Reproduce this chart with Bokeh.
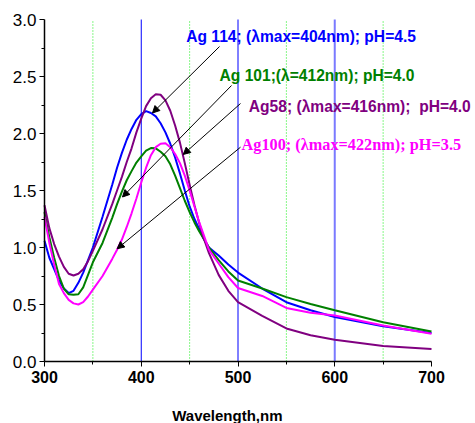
from bokeh.plotting import figure
from bokeh.models import (Range1d, FixedTicker, PrintfTickFormatter, Label,
                          Arrow, NormalHead)
from bokeh.embed import file_html
from bokeh.resources import INLINE

# ---------------- data ----------------
wavelength = [300, 305, 310, 315, 320, 325, 330, 335, 340, 345, 350, 360, 370, 375, 380, 385, 390,
              395, 400, 405, 410, 415, 420, 425, 430, 435, 440, 445, 450, 455, 460, 465, 470,
              480, 490, 500, 525, 550, 575, 600, 650, 700]

ag114 = [1.06, 0.91, 0.81, 0.71, 0.64, 0.60, 0.62, 0.69, 0.78, 0.89, 1.00, 1.27, 1.55, 1.70, 1.83, 1.945, 2.04,
         2.12, 2.17, 2.196, 2.18, 2.15, 2.09, 2.01, 1.91, 1.79, 1.65, 1.50, 1.36, 1.25, 1.16, 1.07, 1.00,
         0.93, 0.85, 0.78, 0.64, 0.52, 0.45, 0.39, 0.31, 0.25]

ag101 = [1.31, 1.09, 0.91, 0.75, 0.64, 0.59, 0.585, 0.59, 0.65, 0.76, 0.87, 1.04, 1.26, 1.38, 1.49, 1.59, 1.67,
         1.745, 1.80, 1.85, 1.872, 1.87, 1.84, 1.80, 1.73, 1.63, 1.52, 1.41, 1.31, 1.22, 1.14, 1.07, 1.00,
         0.89, 0.79, 0.71, 0.64, 0.565, 0.505, 0.45, 0.345, 0.263]

ag58 = [1.37, 1.17, 1.03, 0.92, 0.83, 0.77, 0.754, 0.77, 0.81, 0.88, 0.97, 1.16, 1.38, 1.50, 1.62, 1.75, 1.87,
        2.01, 2.13, 2.24, 2.31, 2.345, 2.34, 2.29, 2.20, 2.07, 1.92, 1.74, 1.55, 1.37, 1.21, 1.07, 0.95,
        0.76, 0.62, 0.52, 0.40, 0.29, 0.23, 0.19, 0.135, 0.11]

ag100 = [1.27, 1.04, 0.85, 0.68, 0.60, 0.54, 0.51, 0.50, 0.52, 0.57, 0.63, 0.75, 0.90, 0.98, 1.07, 1.18, 1.30,
         1.43, 1.57, 1.70, 1.81, 1.88, 1.91, 1.915, 1.88, 1.82, 1.74, 1.63, 1.50, 1.36, 1.22, 1.10, 0.98,
         0.86, 0.74, 0.645, 0.575, 0.47, 0.427, 0.404, 0.316, 0.243]

series_names = ["Ag 114; (\u03bbmax=404nm); pH=4.5",
                "Ag 101;(\u03bb=412nm); pH=4.0",
                "Ag58; (\u03bbmax=416nm);\u00a0 pH=4.0",
                "Ag100; (\u03bbmax=422nm); pH=3.5"]
series_colors = ["#0000ff", "#008000", "#800080", "#ff00ff"]

x_ticks = [300, 400, 500, 600, 700]
x_minor = [350, 450, 550, 650]
y_ticks = [0.0, 0.5, 1.0, 1.5, 2.0, 2.5, 3.0]
y_minor = [0.25, 0.75, 1.25, 1.75, 2.25, 2.75]

green_lines = [350, 450, 550, 650]
blue_lines = [400, 500]
light_blue_lines = [600]

# ---------------- figure ----------------
# 387 px per 400 nm and 114 px per absorbance unit; the frame covers the whole
# canvas so that texts outside the axes box are not clipped.
px_per_nm = 387 / 400
px_per_unit = 342 / 3.0
x_start = x_ticks[0] - 44 / px_per_nm
x_end = x_ticks[0] + 431 / px_per_nm
y_start = y_ticks[-1] - 404 / px_per_unit
y_end = y_ticks[-1] + 19 / px_per_unit
p = figure(width=475, height=423, output_backend="svg", toolbar_location=None,
           x_range=Range1d(x_start, x_end), y_range=Range1d(y_start, y_end),
           min_border_left=0, min_border_right=0, min_border_top=0, min_border_bottom=0)
p.outline_line_color = None
p.xgrid.visible = False
p.ygrid.visible = False
p.background_fill_color = "white"
p.border_fill_color = "white"

y_lo, y_hi = y_ticks[0], y_ticks[-1]
p.segment(x0=green_lines, y0=y_lo, x1=green_lines, y1=y_hi, line_color="#11ee11",
          line_width=1, line_dash="1 2")
p.segment(x0=blue_lines, y0=y_lo, x1=blue_lines, y1=y_hi, line_color="#0000ff", line_width=1)
p.segment(x0=light_blue_lines, y0=y_lo, x1=light_blue_lines, y1=y_hi, line_color="#7a7aff",
          line_width=2)

for ys, c in zip([ag114, ag101, ag58, ag100], series_colors):
    p.line(wavelength, ys, line_color=c, line_width=2)

# axes
p.xaxis.ticker = FixedTicker(ticks=x_ticks, minor_ticks=x_minor)
p.yaxis.ticker = FixedTicker(ticks=y_ticks, minor_ticks=y_minor)
p.yaxis.formatter = PrintfTickFormatter(format="%.1f")
p.xaxis.bounds = (x_ticks[0], x_ticks[-1])
p.yaxis.bounds = (y_lo, y_hi)
p.xaxis.fixed_location = y_lo
p.yaxis.fixed_location = x_ticks[0]
for ax in (p.xaxis[0], p.yaxis[0]):
    ax.axis_line_width = 1.5
    ax.axis_line_color = "black"
    ax.major_tick_line_color = "black"
    ax.minor_tick_line_color = "black"
    ax.major_tick_in = 0
    ax.minor_tick_in = 0
    ax.major_tick_out = 5
    ax.minor_tick_out = 3
    ax.major_label_text_color = "black"
    ax.major_label_text_font = "Liberation Sans"
p.xaxis.major_label_text_font_size = "16px"
p.xaxis.major_label_text_font_style = "bold"
p.xaxis.major_label_standoff = 4
p.yaxis.major_label_text_font_size = "17px"
p.yaxis.major_label_text_font_style = "normal"
p.yaxis.major_label_standoff = 3

# x axis title (left of the frame centre, as in the reference)
p.add_layout(Label(x=489, y=-0.478, text="Wavelength,nm", text_align="center",
                   text_baseline="alphabetic", text_font="Liberation Sans",
                   text_font_size="15px", text_font_style="bold", text_color="black"))

# series annotations
label_pos = [(446.5, 2.855), (480.9, 2.509), (511.2, 2.237), (503.6, 1.904)]
label_fonts = ["Liberation Sans", "Liberation Sans", "Liberation Sans", "Liberation Serif"]
label_sizes = ["15.6px", "15.6px", "15.6px", "16.3px"]
for (lx, ly), txt, c, f, s in zip(label_pos, series_names, series_colors, label_fonts, label_sizes):
    p.add_layout(Label(x=lx, y=ly, text=txt, text_color=c, text_font=f,
                       text_font_size=s, text_font_style="bold",
                       text_align="left", text_baseline="alphabetic"))

arrows = [((480.9, 2.763), (411.6, 2.18)),
          ((493.3, 2.421), (380.6, 1.443)),
          ((502.6, 2.263), (443.4, 1.816)),
          ((502.6, 1.880), (375.1, 0.989))]
for (xs, ys_), (xe, ye) in arrows:
    p.add_layout(Arrow(end=NormalHead(size=7, fill_color="black", line_color="black", line_width=1),
                       x_start=xs, y_start=ys_, x_end=xe, y_end=ye,
                       line_color="black", line_width=1))

open("out.html", "w").write(file_html(p, INLINE))
